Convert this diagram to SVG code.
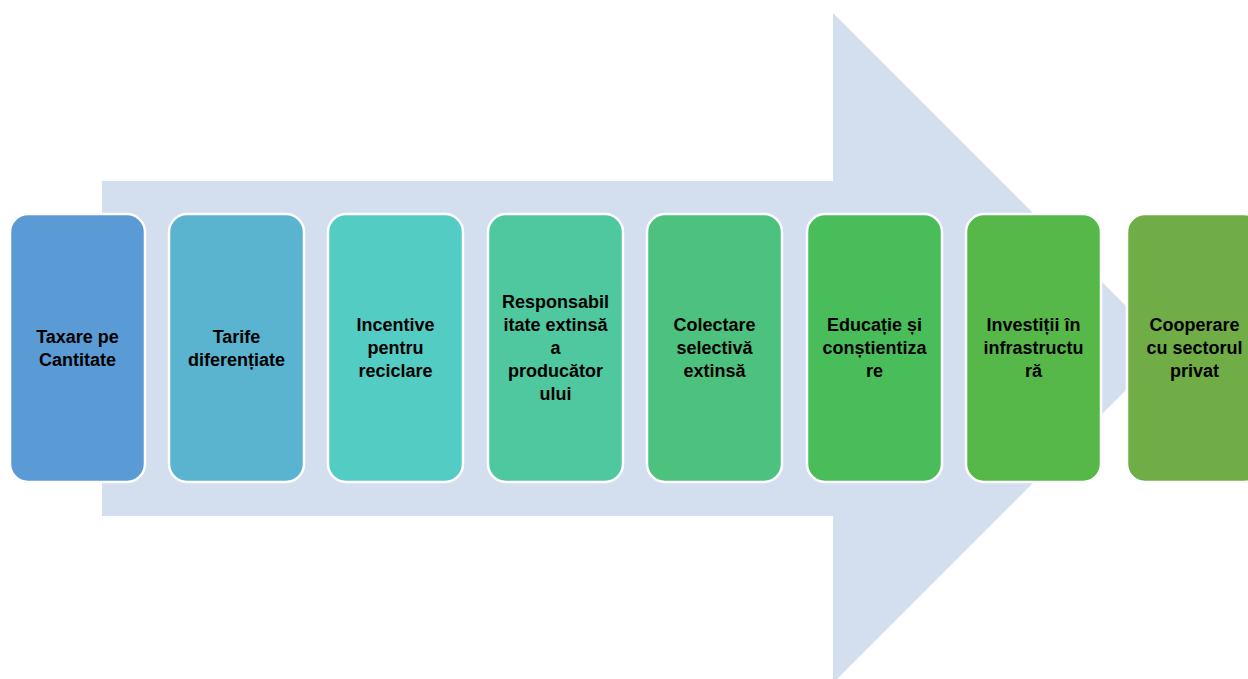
<svg xmlns="http://www.w3.org/2000/svg" width="1248" height="679" viewBox="0 0 1248 679">
<style>
.box{stroke:#ffffff;stroke-width:2.5}
.lbl{font-family:"Liberation Sans",Arial,sans-serif;font-weight:bold;font-size:18px;fill:#000000;text-anchor:middle}
</style>
<rect width="1248" height="679" fill="#ffffff"/>
<g id="connectors">
<polygon points="102,181 833,181 833,13 1168,348 833,683 833,516 102,516" fill="#D3DEEF"/>
</g>
<g id="n1"><rect class="box" x="10" y="214" width="135" height="268" rx="18" fill="#5B9BD5"/>
<text class="lbl" x="77.5" y="342.5">Taxare pe</text><text class="lbl" x="77.5" y="365.5">Cantitate</text></g>
<g id="n2"><rect class="box" x="169" y="214" width="135" height="268" rx="18" fill="#5AB4CF"/>
<text class="lbl" x="236.5" y="342.5">Tarife</text><text class="lbl" x="236.5" y="365.5">diferențiate</text></g>
<g id="n3"><rect class="box" x="328" y="214" width="135" height="268" rx="18" fill="#53CCC4"/>
<text class="lbl" x="395.5" y="331">Incentive</text><text class="lbl" x="395.5" y="354">pentru</text><text class="lbl" x="395.5" y="377">reciclare</text></g>
<g id="n4"><rect class="box" x="488" y="214" width="135" height="268" rx="18" fill="#4FC8A0"/>
<text class="lbl" x="555.5" y="308">Responsabil</text><text class="lbl" x="555.5" y="331">itate extinsă</text><text class="lbl" x="555.5" y="354">a</text><text class="lbl" x="555.5" y="377">producător</text><text class="lbl" x="555.5" y="400">ului</text></g>
<g id="n5"><rect class="box" x="647" y="214" width="135" height="268" rx="18" fill="#4CC27E"/>
<text class="lbl" x="714.5" y="331">Colectare</text><text class="lbl" x="714.5" y="354">selectivă</text><text class="lbl" x="714.5" y="377">extinsă</text></g>
<g id="n6"><rect class="box" x="807" y="214" width="135" height="268" rx="18" fill="#4ABD5B"/>
<text class="lbl" x="874.5" y="331">Educație și</text><text class="lbl" x="874.5" y="354">conștientiza</text><text class="lbl" x="874.5" y="377">re</text></g>
<g id="n7"><rect class="box" x="966" y="214" width="135" height="268" rx="18" fill="#55B849"/>
<text class="lbl" x="1033.5" y="331">Investiții în</text><text class="lbl" x="1033.5" y="354">infrastructu</text><text class="lbl" x="1033.5" y="377">ră</text></g>
<g id="n8"><rect class="box" x="1127" y="214" width="135" height="268" rx="18" fill="#70AD47"/>
<text class="lbl" x="1194.5" y="331">Cooperare</text><text class="lbl" x="1194.5" y="354">cu sectorul</text><text class="lbl" x="1194.5" y="377">privat</text></g>
</svg>
